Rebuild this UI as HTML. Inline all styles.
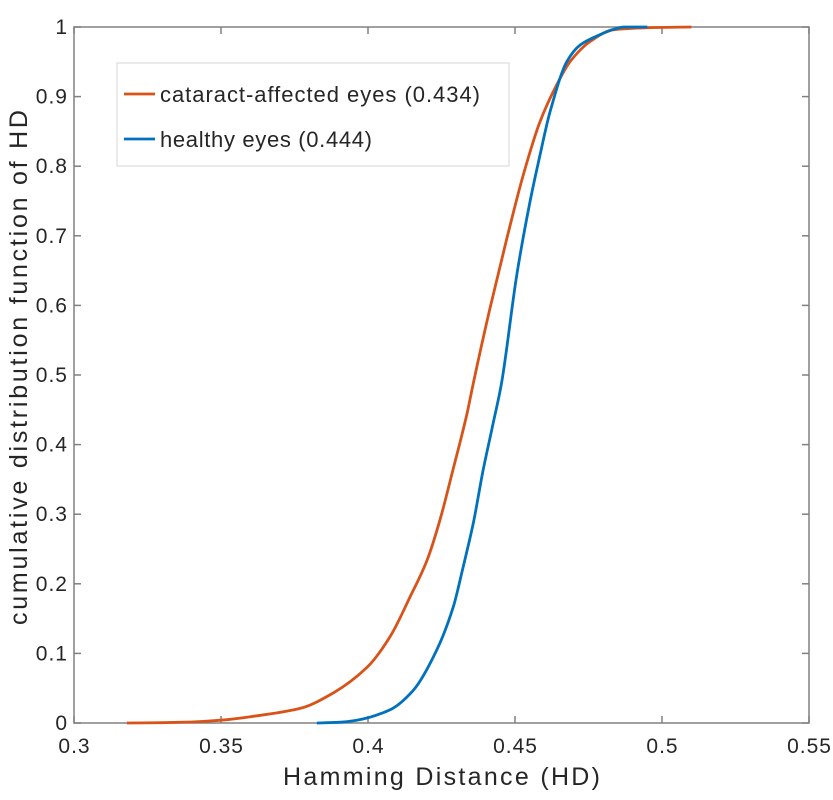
<!DOCTYPE html>
<html><head><meta charset="utf-8"><style>
html,body{margin:0;padding:0;background:#fff}
svg text{font-family:"Liberation Sans",sans-serif;fill:#262626}
</style></head><body>
<svg id="chart" width="833" height="795" xmlns="http://www.w3.org/2000/svg">
<g id="axes"></g><g id="series"></g><g id="legend"></g>
</svg>
<script>
const xTicks=[0.3,0.35,0.4,0.45,0.5,0.55];
const xTickLabels=["0.3","0.35","0.4","0.45","0.5","0.55"];
const yTicks=[0,0.1,0.2,0.3,0.4,0.5,0.6,0.7,0.8,0.9,1];
const yTickLabels=["0","0.1","0.2","0.3","0.4","0.5","0.6","0.7","0.8","0.9","1"];
const cataractX=[0.318,0.33,0.34,0.35,0.36,0.3769,0.3881,0.3997,0.4075,0.4143,0.4201,0.4245,0.4289,0.4337,0.4358,0.4415,0.4472,0.4528,0.4585,0.4642,0.4687,0.4755,0.4834,0.495,0.51];
const cataractY=[0,0.0005,0.0015,0.004,0.009,0.021,0.043,0.080,0.124,0.181,0.234,0.292,0.364,0.445,0.488,0.596,0.696,0.787,0.864,0.917,0.950,0.979,0.996,0.999,1];
const healthyX=[0.3826,0.390,0.3962,0.4075,0.4154,0.4234,0.4290,0.4324,0.4358,0.4392,0.4426,0.4454,0.4506,0.4551,0.4585,0.4619,0.4676,0.4721,0.4789,0.4846,0.487,0.495];
const healthyY=[0,0.001,0.004,0.019,0.047,0.105,0.167,0.225,0.287,0.364,0.431,0.488,0.644,0.749,0.816,0.878,0.950,0.974,0.989,0.998,1,1];
const L=74,R=809,T=27,B=723;
const sx=v=>L+(v-0.3)/(0.55-0.3)*(R-L);
const sy=v=>B-v*(B-T);
const NS="http://www.w3.org/2000/svg";
function mk(tag,attrs,parent,text){const e=document.createElementNS(NS,tag);for(const k in attrs)e.setAttribute(k,attrs[k]);if(text!==undefined)e.textContent=text;parent.appendChild(e);return e;}
const axes=document.getElementById('axes');
let box=mk('rect',{x:L,y:T,width:R-L,height:B-T,fill:'none',stroke:'#808080','stroke-width':1.5},axes);


xTicks.forEach((v,i)=>{
 let t=mk('line',{x1:sx(v),x2:sx(v),y1:B,y2:B-7,stroke:'#808080','stroke-width':1.5},axes);
 
 
 let t2=mk('line',{x1:sx(v),x2:sx(v),y1:T,y2:T+7,stroke:'#808080','stroke-width':1.5},axes);
 
 
 let lb=mk('text',{x:sx(v)+0.5,y:B+30,'text-anchor':'middle','font-size':21,'letter-spacing':1},axes,xTickLabels[i]);
 
 
});
yTicks.forEach((v,i)=>{
 let t=mk('line',{x1:L,x2:L+7,y1:sy(v),y2:sy(v),stroke:'#808080','stroke-width':1.5},axes);
 
 
 let t2=mk('line',{x1:R,x2:R-7,y1:sy(v),y2:sy(v),stroke:'#808080','stroke-width':1.5},axes);
 
 
 let lb=mk('text',{x:L-6,y:sy(v)+7,'text-anchor':'end','font-size':21,'letter-spacing':1},axes,yTickLabels[i]);
 
 
});
let xt=mk('text',{x:283,y:785,'font-size':25,textLength:317,lengthAdjust:'spacing'},axes,'Hamming Distance (HD)');


let yt=mk('text',{x:0,y:0,'font-size':25,textLength:515,lengthAdjust:'spacing',transform:`translate(27,625) rotate(-90)`},axes,'cumulative distribution function of HD');


const ser=document.getElementById('series');
function path(xs,ys){
 const px=xs.map(sx),py=ys.map(sy),n=px.length;
 const d=[],m=[];
 for(let i=0;i<n-1;i++)d.push((py[i+1]-py[i])/(px[i+1]-px[i]));
 m[0]=d[0];m[n-1]=d[n-2];
 for(let i=1;i<n-1;i++)m[i]=(d[i-1]*d[i]<=0)?0:2/(1/d[i-1]+1/d[i]);
 let s='M'+px[0].toFixed(1)+','+py[0].toFixed(1);
 for(let i=0;i<n-1;i++){const h=(px[i+1]-px[i])/3;
  s+=` C${(px[i]+h).toFixed(1)},${(py[i]+m[i]*h).toFixed(1)} ${(px[i+1]-h).toFixed(1)},${(py[i+1]-m[i+1]*h).toFixed(1)} ${px[i+1].toFixed(1)},${py[i+1].toFixed(1)}`;}
 return s;}
let p1=mk('path',{d:path(cataractX,cataractY),fill:'none',stroke:'#D95319','stroke-width':2.8,'stroke-linejoin':'round'},ser);


let p2=mk('path',{d:path(healthyX,healthyY),fill:'none',stroke:'#0072BD','stroke-width':2.8,'stroke-linejoin':'round'},ser);


const lg=document.getElementById('legend');
let lr=mk('rect',{x:117,y:63,width:392,height:103,fill:'#fff',stroke:'#dcdcdc','stroke-width':1.2},lg);


let l1=mk('line',{x1:124,x2:155,y1:94,y2:94,stroke:'#D95319','stroke-width':2.8},lg);


let lt1=mk('text',{x:160,y:102,'font-size':22,textLength:320,lengthAdjust:'spacing'},lg,'cataract-affected eyes (0.434)');


let l2=mk('line',{x1:124,x2:155,y1:139,y2:139,stroke:'#0072BD','stroke-width':2.8},lg);


let lt2=mk('text',{x:160,y:147,'font-size':22,textLength:212,lengthAdjust:'spacing'},lg,'healthy eyes (0.444)');


</script>
</body></html>
